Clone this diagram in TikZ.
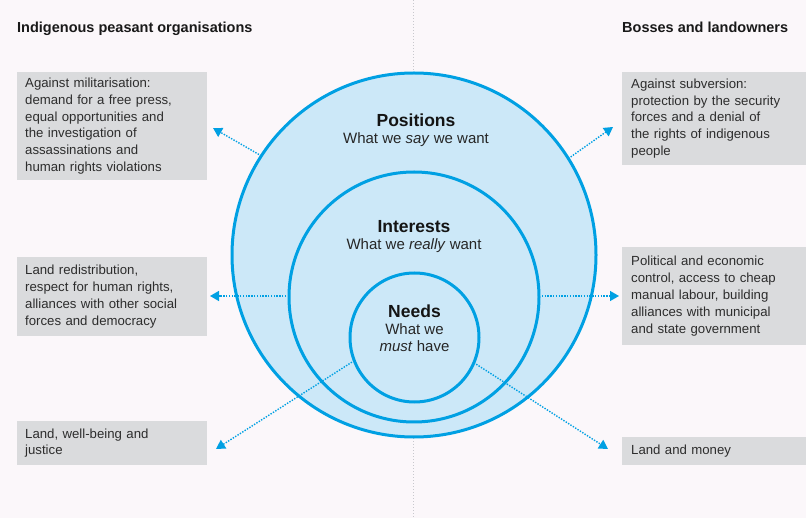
\documentclass[tikz,border=0pt]{standalone}
\usepackage{fontspec}
\setmainfont{Liberation Sans}
\usetikzlibrary{arrows.meta}
\definecolor{bg}{RGB}{251,247,250}
\definecolor{cfill}{RGB}{204,232,248}
\definecolor{cblue}{RGB}{0,160,227}
\definecolor{boxgray}{RGB}{218,219,221}
\definecolor{txt}{RGB}{45,45,45}
\definecolor{vline}{RGB}{200,200,205}
\begin{document}
\begin{tikzpicture}[x=1pt,y=-1pt,
  ring/.style={circle, draw=cblue, line width=3pt, fill=cfill, inner sep=0pt, outer sep=0pt},
  infobox/.style={fill=boxgray, anchor=north west, align=left, inner xsep=8pt, inner ysep=0pt,
    text=txt, font=\fontsize{13.2}{16.8}\selectfont, text width=174pt},
  rinfobox/.style={infobox, inner xsep=9pt, text width=180pt},
  heading/.style={anchor=base west, font=\fontsize{14.5}{17}\selectfont\bfseries, text=black!90, inner sep=0pt},
  ctitle/.style={anchor=base, font=\fontsize{17.5}{20}\selectfont\bfseries, text=black!92, inner sep=0pt},
  csub/.style={anchor=base, font=\fontsize{15}{17}\selectfont, text=black!85, inner sep=0pt},
  arr/.style={draw=cblue, line width=1.4pt, dash pattern=on 1.4pt off 1.4pt,
    -{Triangle[length=9pt,width=10pt]}}
]
\useasboundingbox[fill=bg] (0,0) rectangle (806,518);
\coordinate (vtop) at (413,0);
\coordinate (vbot) at (413,518);
\draw[vline, line width=0.8pt, dash pattern=on 1pt off 2pt] (vtop) -- (vbot);

% circles
\node[ring, minimum size=364pt] (pos) at (414,255) {};
\node[ring, minimum size=250pt] (int) at (414,297) {};
\node[ring, minimum size=129pt] (need) at (414.5,337.5) {};

% headings
\node[heading] (hl) at (17,33) {Indigenous peasant organisations};
\node[heading] (hr) at (622,33) {Bosses and landowners};

% left boxes
\node[infobox, minimum height=108pt] (l1) at (17,72) {\strut Against militarisation:\\ \strut demand for a free press,\\ \strut equal opportunities and\\ \strut the investigation of\\ \strut assassinations and\\ \strut human rights violations};
\node[infobox, minimum height=79pt] (l2) at (17,257) {\strut Land redistribution,\\ \strut respect for human rights,\\ \strut alliances with other social\\ \strut forces and democracy};
\node[infobox, minimum height=44pt] (l3) at (17,421) {\strut Land, well-being and\\ \strut justice};

% right boxes
\node[rinfobox, minimum height=92.7pt] (r1) at (622,72) {\strut Against subversion:\\ \strut protection by the security\\ \strut forces and a denial of\\ \strut the rights of indigenous\\ \strut people};
\node[rinfobox, minimum height=98.3pt] (r2) at (622,246.7) {\strut Political and economic\\ \strut control, access to cheap\\ \strut manual labour, building\\ \strut alliances with municipal\\ \strut and state government};
\node[rinfobox, minimum height=28.3pt] (r3) at (622,436.7) {\strut Land and money};

% arrow tips
\coordinate (t1) at (213,128);
\coordinate (t2) at (613,127);
\coordinate (t3) at (210,296);
\coordinate (t4) at (619,296);
\coordinate (t5) at (216,449);
\coordinate (t6) at (608,449);

\draw[arr] (pos.147.6) -- (t1);
\draw[arr] (pos.32.4) -- (t2);
\draw[arr] ([yshift=1pt]int.west) -- (t3);
\draw[arr] ([yshift=1pt]int.east) -- (t4);
\draw[arr] (need.201.7) -- (t5);
\draw[arr] (need.337.3) -- (t6);

% circle labels
\node[ctitle] (post) at (416,127) {Positions};
\node[csub] (poss) at (416,144) {What we \textit{say} we want};
\node[ctitle] (intt) at (414,233) {Interests};
\node[csub] (ints) at (414,250) {What we \textit{really} want};
\node[ctitle] (needt) at (414.5,318) {Needs};
\node[csub] (needs1) at (414.5,335) {What we};
\node[csub] (needs2) at (414.5,352) {\textit{must} have};
\end{tikzpicture}
\end{document}
